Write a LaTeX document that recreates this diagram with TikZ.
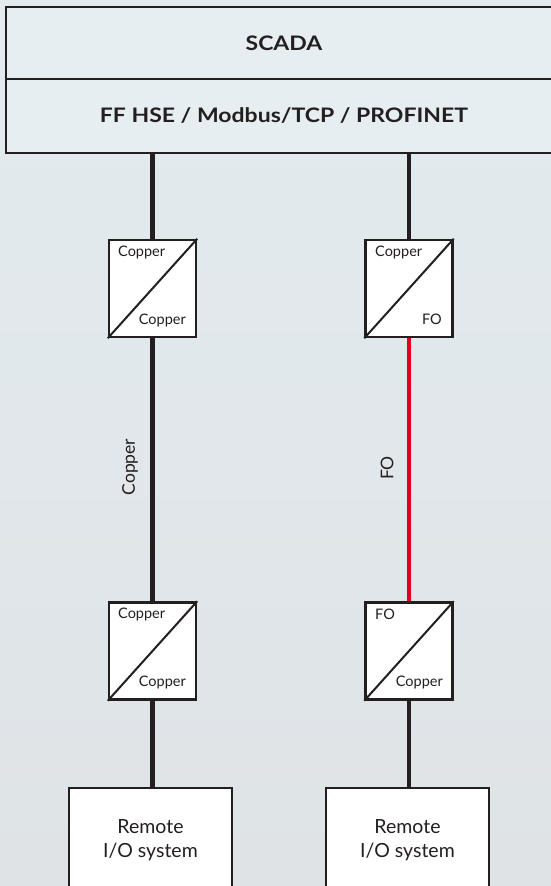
\documentclass[tikz,border=0pt]{standalone}
\usepackage{fontspec}
\setmainfont{Lato}
\newfontfamily\barfont[FakeStretch=1.15]{Lato}
\usepackage{tikz}
\usetikzlibrary{positioning}
\usepackage{xcolor}
\definecolor{bgtop}{HTML}{E3EBEF}
\definecolor{bgbot}{HTML}{DFE3E6}
\definecolor{barfill}{HTML}{E6EEF2}
\definecolor{ink}{HTML}{231F20}
\definecolor{fored}{HTML}{E2001A}

\begin{document}
\begin{tikzpicture}[x=1pt, y=-1pt,
    bar/.style={draw=ink, line width=2.5pt, fill=barfill, minimum width=556pt, inner sep=0, font=\barfont\fontsize{20}{24}\selectfont\bfseries, text=ink},
    conv/.style={draw=ink, line width=2.5pt, fill=white, minimum width=87pt, minimum height=97pt, inner sep=0},
    rio/.style={draw=ink, line width=2.5pt, fill=white, minimum width=163pt, minimum height=104pt, inner sep=0, align=center, font=\fontsize{19.5}{24}\selectfont, text=ink},
    cl/.style={inner sep=0, font=\fontsize{14.5}{16}\selectfont, text=ink},
    ll/.style={inner sep=0, rotate=90, font=\fontsize{17.5}{20}\selectfont, text=ink},
    wire/.style={draw=ink, line width=4.5pt},
    fibre/.style={draw=fored, line width=4.5pt}]
\clip (0,0) rectangle (551,886);
\fill[top color=bgtop, bottom color=bgbot] (0,0) rectangle (551,886);
\node[bar, minimum height=72pt] (scada) at (284,43) {SCADA};
\node[bar, minimum height=74pt] (bus) at (284,116) {FF HSE / Modbus/TCP / PROFINET};
\node[conv] (c1) at (152.5,288.5) {};
\node[conv] (c2) at (409,288.5) {};
\node[conv] (c3) at (152.5,651) {};
\node[conv] (c4) at (409,651) {};
\node[rio] (r1) at (150.5,840) {Remote\\I/O system};
\node[rio] (r2) at (407.5,840) {Remote\\I/O system};
\draw[wire] (bus.south -| c1) -- (c1.north);
\draw[wire] (bus.south -| c2) -- (c2.north);
\draw[wire] (c1.south) -- (c3.north);
\draw[fibre] (c2.south) -- (c4.north);
\draw[wire] (c3.south) -- (r1.north -| c3);
\draw[wire] (c4.south) -- (r2.north -| c4);
\foreach \c in {c1,c2,c3,c4}
  \draw[ink, line width=2pt] (\c.south west) -- (\c.north east);
\node[cl, anchor=west] (c1a) at (118,252) {Copper};
\node[cl, anchor=east] (c1b) at (186,320) {Copper};
\node[cl, anchor=west] (c2a) at (375,252) {Copper};
\node[cl, anchor=east] (c2b) at (442,319) {FO};
\node[cl, anchor=west] (c3a) at (118,614) {Copper};
\node[cl, anchor=east] (c3b) at (186,682) {Copper};
\node[cl, anchor=west] (c4a) at (375,614) {FO};
\node[cl, anchor=east] (c4b) at (443,682) {Copper};
\node[ll] (cu) at (130,467) {Copper};
\node[ll] (fo) at (387,468) {FO};
\end{tikzpicture}
\end{document}
